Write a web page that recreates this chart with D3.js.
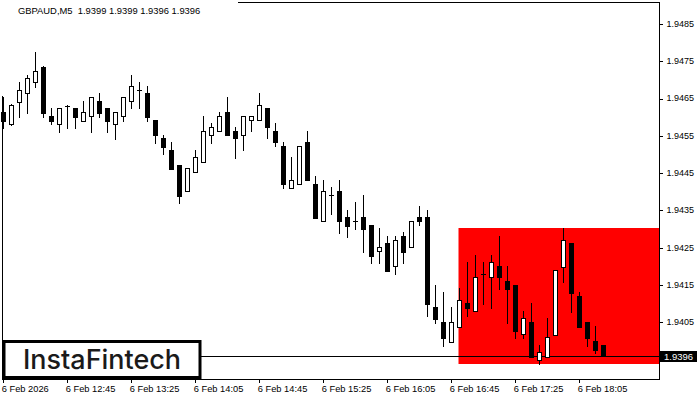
<!DOCTYPE html>
<html><head><meta charset="utf-8">
<script src="https://cdn.jsdelivr.net/npm/d3@7"></script>
<style>body{margin:0;background:#fff}svg{display:block}</style>
</head><body><svg id="c" width="700" height="400"></svg>
<script>
// ---- data ----
const symbol = "GBPAUD,M5";
const lastOHLC = [1.9399, 1.9399, 1.9396, 1.9396];
const opens = [1.94615,1.94583,1.94642,1.94664,1.94694,1.94735,1.94603,1.94583,1.94631,1.94625,
1.94591,1.94602,1.94644,1.94625,1.94583,1.94602,1.94643,1.94673,1.94664,1.94593,
1.94543,1.94512,1.94472,1.94401,1.94452,1.94481,1.94552,1.94562,1.94613,1.94562,
1.94552,1.94592,1.94592,1.94624,1.94562,1.94522,1.94411,1.94420,1.94533,1.94420,
1.94321,1.94391,1.94401,1.94332,1.94321,1.94332,1.94310,1.94240,1.94262,1.94200,
1.94281,1.94251,1.94332,1.94332,1.94091,1.94051,1.93998,1.94038,1.94102,1.94080,
1.94180,1.94171,1.94201,1.94161,1.94150,1.94018,1.94051,1.93948,1.93958,1.94017,
1.94199,1.94263,1.94121,1.94051,1.93999,1.93990];
const highs = [1.94655,1.94635,1.94694,1.94713,1.94776,1.94737,1.94626,1.94624,1.94632,1.94625,
1.94644,1.94653,1.94664,1.94625,1.94613,1.94653,1.94713,1.94694,1.94683,1.94593,
1.94552,1.94533,1.94472,1.94463,1.94512,1.94603,1.94584,1.94613,1.94653,1.94573,
1.94602,1.94602,1.94664,1.94624,1.94584,1.94533,1.94493,1.94522,1.94563,1.94442,
1.94432,1.94412,1.94432,1.94351,1.94372,1.94391,1.94310,1.94302,1.94281,1.94281,
1.94291,1.94321,1.94361,1.94351,1.94150,1.94131,1.94091,1.94142,1.94212,1.94231,
1.94212,1.94231,1.94281,1.94201,1.94150,1.94080,1.94102,1.93989,1.94062,1.94190,
1.94303,1.94263,1.94131,1.94051,1.94040,1.93990];
const lows = [1.94572,1.94580,1.94601,1.94611,1.94682,1.94601,1.94582,1.94561,1.94572,1.94572,
1.94590,1.94561,1.94601,1.94561,1.94542,1.94591,1.94624,1.94624,1.94591,1.94532,
1.94502,1.94462,1.94371,1.94401,1.94452,1.94481,1.94532,1.94562,1.94552,1.94491,
1.94511,1.94562,1.94592,1.94543,1.94522,1.94411,1.94411,1.94420,1.94431,1.94331,
1.94321,1.94341,1.94290,1.94280,1.94301,1.94239,1.94210,1.94210,1.94188,1.94179,
1.94210,1.94251,1.94310,1.94068,1.94049,1.93987,1.93998,1.94038,1.94068,1.94080,
1.94100,1.94089,1.94140,1.94049,1.94009,1.94009,1.93958,1.93937,1.93958,1.94017,
1.94159,1.94078,1.94038,1.93987,1.93968,1.93960];
const closes = [1.94590,1.94632,1.94673,1.94704,1.94724,1.94612,1.94591,1.94624,1.94630,1.94601,
1.94613,1.94653,1.94612,1.94591,1.94613,1.94653,1.94683,1.94673,1.94601,1.94552,
1.94521,1.94462,1.94390,1.94463,1.94493,1.94562,1.94573,1.94602,1.94552,1.94543,
1.94602,1.94602,1.94632,1.94573,1.94533,1.94420,1.94431,1.94522,1.94431,1.94331,
1.94401,1.94391,1.94321,1.94309,1.94321,1.94301,1.94229,1.94251,1.94188,1.94270,
1.94239,1.94321,1.94321,1.94100,1.94060,1.94009,1.94051,1.94110,1.94089,1.94171,
1.94180,1.94212,1.94171,1.94140,1.94028,1.94061,1.93958,1.93970,1.94010,1.94190,
1.94270,1.94129,1.94038,1.94009,1.93977,1.93960];
const priceTicks = [1.9395,1.9405,1.9415,1.9425,1.9435,1.9445,1.9455,1.9465,1.9475,1.9485];
const timeTickIdx = [0,8,16,24,32,40,48,56,64,72];
const timeLabels = ["6 Feb 2026","6 Feb 12:45","6 Feb 13:25","6 Feb 14:05","6 Feb 14:45",
"6 Feb 15:25","6 Feb 16:05","6 Feb 16:45","6 Feb 17:25","6 Feb 18:05"];
const currentPrice = 1.9396;
const patternStartIdx = 57;
const patternTop = 1.94303;
const patternBottom = 1.93938;
const priceMin = 1.93898, priceMax = 1.94909;

// ---- layout ----
const L = 2, R = 659, T = 2, B = 379;
const svg = d3.select("#c");
const y = d3.scaleLinear().domain([priceMin, priceMax]).range([B, T]);
const x = d3.scaleLinear().domain([0, 82]).range([3.5, 659.5]);
const font = "'Liberation Sans', Arial, sans-serif";

svg.append("rect").attr("width",700).attr("height",400).attr("fill","#fff");

// pattern rectangle
svg.append("rect")
  .attr("x", Math.round(x(patternStartIdx)) - 0.5)
  .attr("y", Math.round(y(patternTop)))
  .attr("width", R - Math.round(x(patternStartIdx)) + 0.5)
  .attr("height", Math.round(y(patternBottom)) - Math.round(y(patternTop)))
  .attr("fill", "#ff0000");

// frame
const frame = svg.append("g").attr("stroke","#000").attr("stroke-width",1).attr("shape-rendering","crispEdges");
frame.append("line").attr("x1",L+0.5).attr("x2",L+0.5).attr("y1",96).attr("y2",B);
frame.append("line").attr("x1",238).attr("x2",R+0.5).attr("y1",T+0.5).attr("y2",T+0.5);
frame.append("line").attr("x1",R+0.5).attr("x2",R+0.5).attr("y1",T).attr("y2",B+1);
frame.append("line").attr("x1",L).attr("x2",R+1).attr("y1",B+0.5).attr("y2",B+0.5);

// current price line
svg.append("line").attr("x1",L).attr("x2",R)
  .attr("y1",Math.round(y(currentPrice))+0.5).attr("y2",Math.round(y(currentPrice))+0.5)
  .attr("stroke","#000").attr("shape-rendering","crispEdges");

// candles
const data = opens.map((o,i)=>({i, o, h:highs[i], l:lows[i], c:closes[i]}));
const cg = svg.append("g").attr("shape-rendering","crispEdges");
const py = v => Math.round(y(v)) + 0.5;
data.forEach(d=>{
  const cx = x(d.i);
  cg.append("line").attr("x1",cx).attr("x2",cx).attr("y1",py(d.h)-0.5).attr("y2",py(d.l)+0.5)
    .attr("stroke","#000");
  const top = py(Math.max(d.o,d.c)), bot = py(Math.min(d.o,d.c));
  if (bot - top < 1) {
    cg.append("line").attr("x1",cx-2.5).attr("x2",cx+2.5).attr("y1",top).attr("y2",top).attr("stroke","#000");
  } else {
    cg.append("rect").attr("x",cx-2).attr("y",top).attr("width",4).attr("height",bot-top)
      .attr("fill", d.c >= d.o ? "#fff" : "#000").attr("stroke","#000");
  }
});

// y axis
const ya = svg.append("g").attr("transform",`translate(${R+0.5},0)`)
  .call(d3.axisRight(y).tickValues(priceTicks).tickSize(3).tickPadding(4).offset(0).tickFormat(d3.format(".4f")));
ya.select(".domain").remove();
ya.selectAll("line").attr("shape-rendering","crispEdges").attr("transform","translate(0,0.5)");
ya.selectAll("text").attr("font-family",font).attr("font-size",9).attr("fill","#000");

// x axis
const xa = svg.append("g").attr("transform",`translate(0,${B+0.5})`)
  .call(d3.axisBottom(x).tickValues(timeTickIdx).tickSize(3).tickPadding(3).offset(0)
    .tickFormat((d,i)=>timeLabels[i]));
xa.select(".domain").remove();
xa.selectAll("line").attr("shape-rendering","crispEdges");
xa.selectAll("text").attr("font-family",font).attr("font-size",9.3).attr("fill","#000")
  .attr("text-anchor","start").attr("x",-1.8);

// current price label
const cpY = Math.round(y(currentPrice));
svg.append("rect").attr("x",660).attr("y",cpY-5).attr("width",37).attr("height",11).attr("fill","#000");
svg.append("text").attr("x",664).attr("y",cpY+4).attr("font-family",font).attr("font-size",9.5)
  .attr("fill","#fff").text(d3.format(".4f")(currentPrice));

// title
svg.append("text").attr("x",18).attr("y",14).attr("font-family",font).attr("font-size",9.4)
  .attr("fill","#000").style("white-space","pre")
  .text(symbol + "  " + lastOHLC.map(d3.format(".4f")).join(" "));

// logo
svg.append("rect").attr("x",4).attr("y",341.5).attr("width",196).attr("height",36)
  .attr("fill","#fff").attr("stroke","#000").attr("stroke-width",3);
svg.append("text").attr("x",23).attr("y",369).attr("font-family","Inter, 'Noto Sans', sans-serif")
  .attr("font-size",27).attr("font-weight",500).attr("fill","#1a1a1a")
  .attr("textLength",158).attr("lengthAdjust","spacingAndGlyphs").text("InstaFintech");
</script></body></html>
